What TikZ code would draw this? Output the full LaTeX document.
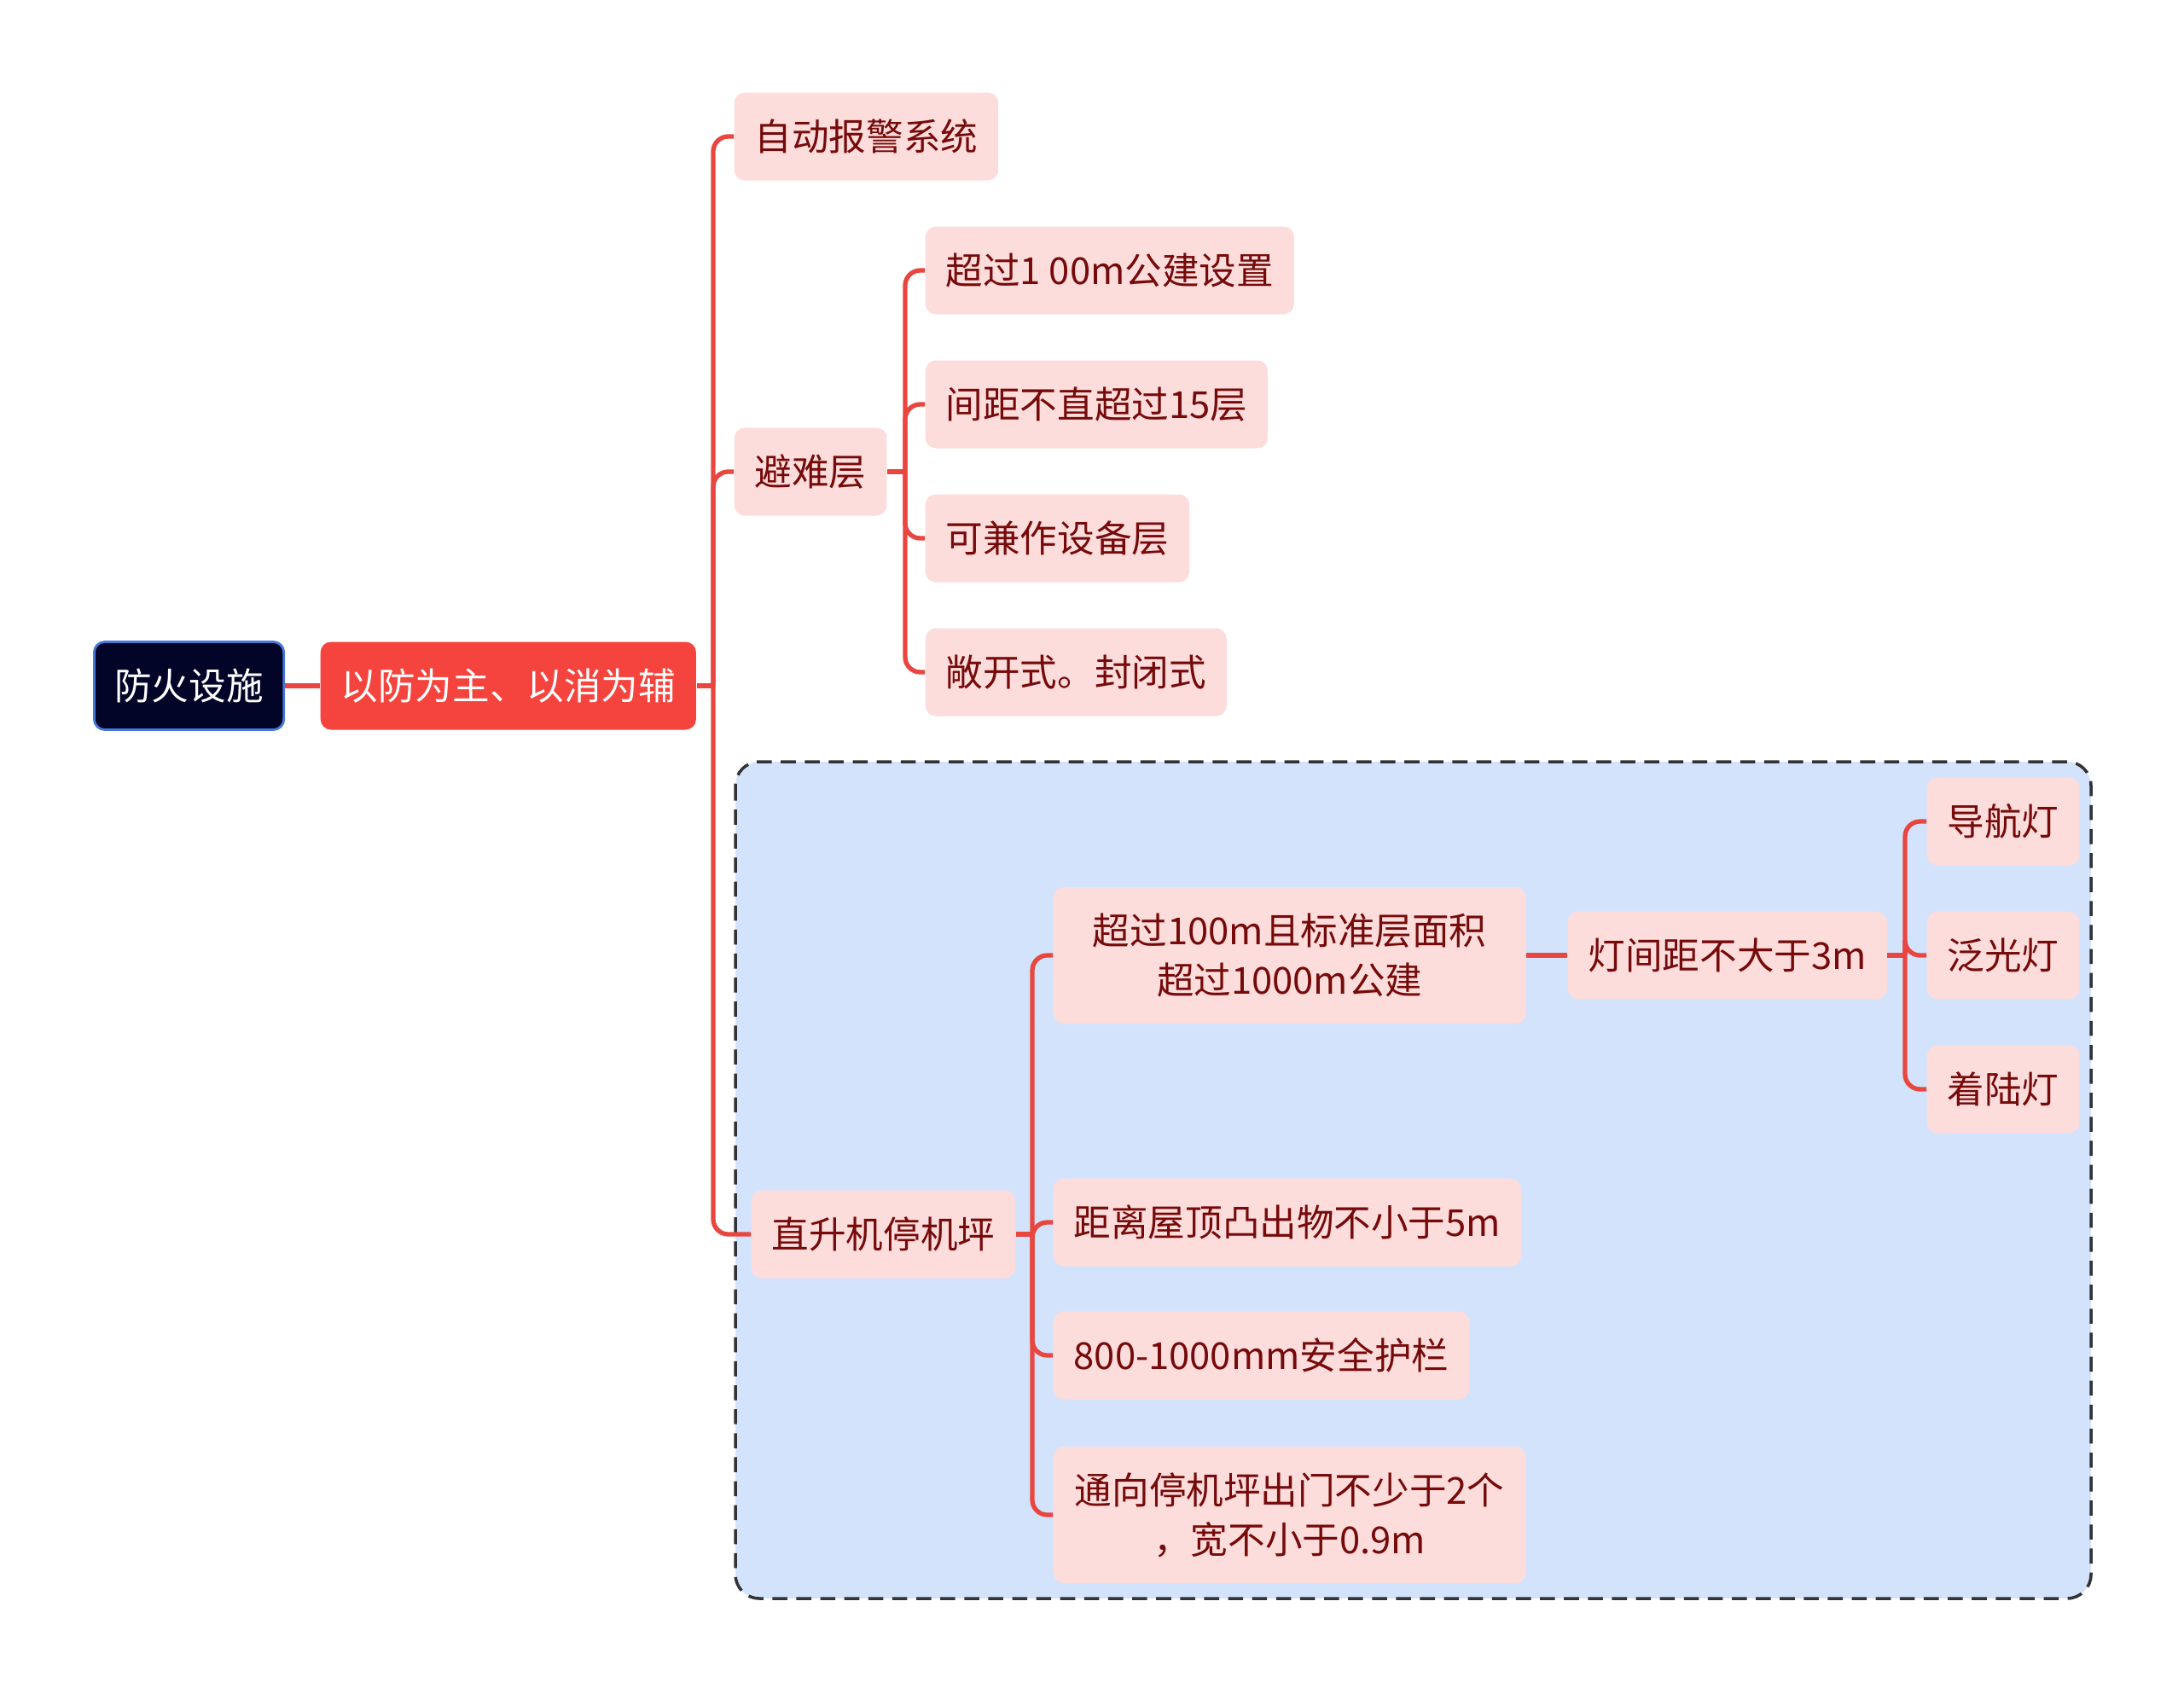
\documentclass[tikz,border=0pt]{standalone}
\usepackage{fontspec}
\setmainfont{Noto Sans CJK SC}
\usetikzlibrary{positioning, backgrounds}

\definecolor{rootnavy}{RGB}{2,4,40}
\definecolor{rootedge}{RGB}{70,120,215}
\definecolor{mainred}{RGB}{245,68,61}
\definecolor{leafpink}{RGB}{253,220,220}
\definecolor{leaftext}{RGB}{118,10,10}
\definecolor{linkred}{RGB}{232,70,62}
\definecolor{boxblue}{RGB}{212,227,252}
\definecolor{boxedge}{RGB}{50,50,55}

\begin{document}
\begin{tikzpicture}[
            topic/.style={rectangle, rounded corners=3.5pt, anchor=west,
                          minimum height=10.3mm, inner xsep=2.4mm,
                          align=center, font=\fontsize{12.4}{16.5}\selectfont},
            leaf/.style={topic, fill=leafpink, text=leaftext},
            link/.style={draw=linkred, line width=1.5pt, rounded corners=5pt}
        ]
            \useasboundingbox (0,0) rectangle (25.6,-19.86);

            % dashed group round the helipad branch
            \draw[fill=boxblue, draw=boxedge, line width=1pt, dash pattern=on 5pt off 3pt,
                  rounded corners=8pt] (8.62,-8.93) rectangle (24.51,-18.74);

            \node[topic, fill=rootnavy, draw=rootedge, line width=0.8pt, text=white] (root) at (1.09,-8.04) {防火设施};
            \node[topic, fill=mainred, text=white] (main) at (3.75,-8.04) {以防为主、以消为辅};

            \node[leaf] (alarm) at (8.60,-1.60) {自动报警系统};
            \node[leaf] (refuge) at (8.60,-5.53) {避难层};
            \node[leaf] (heli) at (8.80,-14.47) {直升机停机坪};

            \node[leaf] (ref1) at (10.84,-3.17) {超过1 00m公建设置};
            \node[leaf] (ref2) at (10.84,-4.74) {间距不直超过15层};
            \node[leaf] (ref3) at (10.84,-6.31) {可兼作设备层};
            \node[leaf] (ref4) at (10.84,-7.88) {敞开式。封闭式};

            \node[leaf, minimum height=16mm, minimum width=55.4mm] (heli1) at (12.34,-11.20) {超过100m且标准层面积\\超过1000m公建};
            \node[leaf] (heli2) at (12.34,-14.33) {距离屋顶凸出物不小于5m};
            \node[leaf] (heli3) at (12.34,-15.89) {800-1000mm安全护栏};
            \node[leaf, minimum height=16mm, minimum width=55.4mm] (heli4) at (12.34,-17.76) {通向停机坪出门不少于2个\\，宽不小于0.9m};

            \node[leaf] (lamp) at (18.37,-11.20) {灯间距不大于3m};
            \node[leaf] (lamp1) at (22.58,-9.63) {导航灯};
            \node[leaf] (lamp2) at (22.58,-11.20) {泛光灯};
            \node[leaf] (lamp3) at (22.58,-12.77) {着陆灯};

            % branch points
            \coordinate (j1) at (8.36,-8.04);
            \coordinate (j2) at (10.61,-5.53);
            \coordinate (j3) at (12.10,-14.47);
            \coordinate (j4) at (22.33,-11.20);

            \draw[link] (root) -- (main);
            \draw[link] (main.east) -- (j1);
            \foreach \c in {alarm, refuge, heli}
                \draw[link] (j1) |- (\c.west);

            \draw[link] (refuge.east) -- (j2);
            \foreach \c in {ref1, ref2, ref3, ref4}
                \draw[link] (j2) |- (\c.west);

            \draw[link] (heli.east) -- (j3);
            \foreach \c in {heli1, heli2, heli3, heli4}
                \draw[link] (j3) |- (\c.west);

            \draw[link] (heli1) -- (lamp);
            \draw[link] (lamp.east) -- (j4);
            \foreach \c in {lamp1, lamp2, lamp3}
                \draw[link] (j4) |- (\c.west);
        \end{tikzpicture}
\end{document}
